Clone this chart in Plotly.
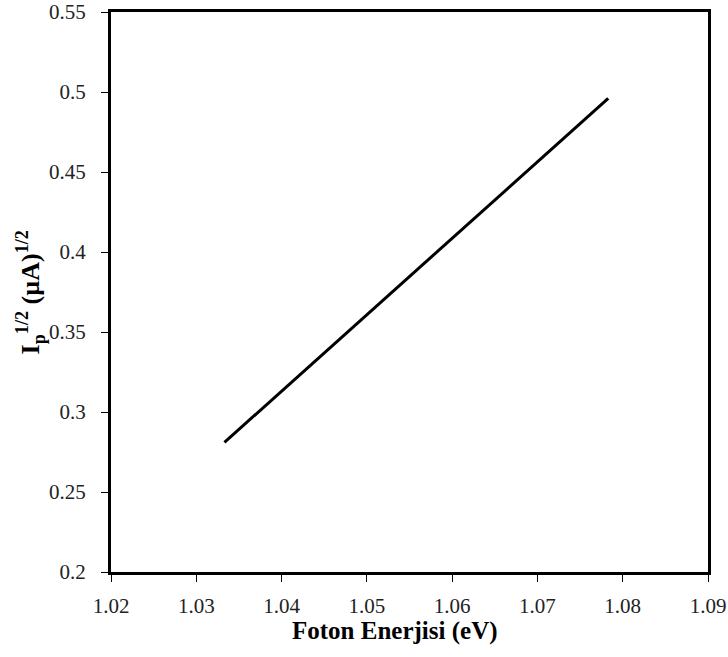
import plotly.graph_objects as go

energy_ev = [1.0333, 1.0783]
ip_sqrt = [0.281, 0.496]

x_ticks = [1.02, 1.03, 1.04, 1.05, 1.06, 1.07, 1.08, 1.09]
y_ticks = [0.2, 0.25, 0.3, 0.35, 0.4, 0.45, 0.5, 0.55]
y_labels = ["0.2", "0.25", "0.3", "0.35", "0.4", "0.45", "0.5", "0.55"]

x_title = "<b>Foton Enerjisi (eV)</b>"
y_title = "<b>I<sub>p</sub><sup>1/2</sup> (µA)<sup>1/2</sup></b>"

fig = go.Figure()
fig.add_trace(go.Scatter(x=energy_ev, y=ip_sqrt, mode="lines",
                         line=dict(color="black", width=3), showlegend=False))

font = "Liberation Serif, Times New Roman, serif"
fig.update_layout(
    width=728, height=657,
    margin=dict(l=111, r=20, t=12, b=85, autoexpand=False),
    paper_bgcolor="white", plot_bgcolor="white",
    font=dict(family=font, color="black", size=21),
    xaxis=dict(range=[1.02, 1.09], tickvals=x_ticks,
               ticktext=[f"{v:.2f}" for v in x_ticks],
               showline=True, linewidth=3, linecolor="black", mirror=True,
               ticks="outside", ticklen=7, tickwidth=1, tickcolor="black",
               showgrid=False, zeroline=False, automargin=False,
               ticklabelstandoff=6,
               tickfont=dict(size=21, family=font, color="#222")),
    yaxis=dict(range=[0.2, 0.55], tickvals=y_ticks, ticktext=y_labels,
               showline=True, linewidth=3, linecolor="black", mirror=True,
               ticks="outside", ticklen=7, tickwidth=1, tickcolor="black",
               showgrid=False, zeroline=False, automargin=False,
               ticklabelstandoff=11,
               tickfont=dict(size=21, family=font, color="#222")),
    annotations=[
        dict(text=x_title, xref="paper", yref="paper", x=0.4757, y=-0.106,
             xanchor="center", yanchor="middle", showarrow=False,
             font=dict(size=25, family=font, color="black")),
        dict(text=y_title, xref="paper", yref="paper", x=-0.135, y=0.5,
             xanchor="center", yanchor="middle", showarrow=False, textangle=-90,
             font=dict(size=26, family=font, color="black")),
    ],
)
fig.write_html("out.html", config={"displayModeBar": False},
               post_script="document.body.style.margin='0';document.body.style.overflow='hidden';")
